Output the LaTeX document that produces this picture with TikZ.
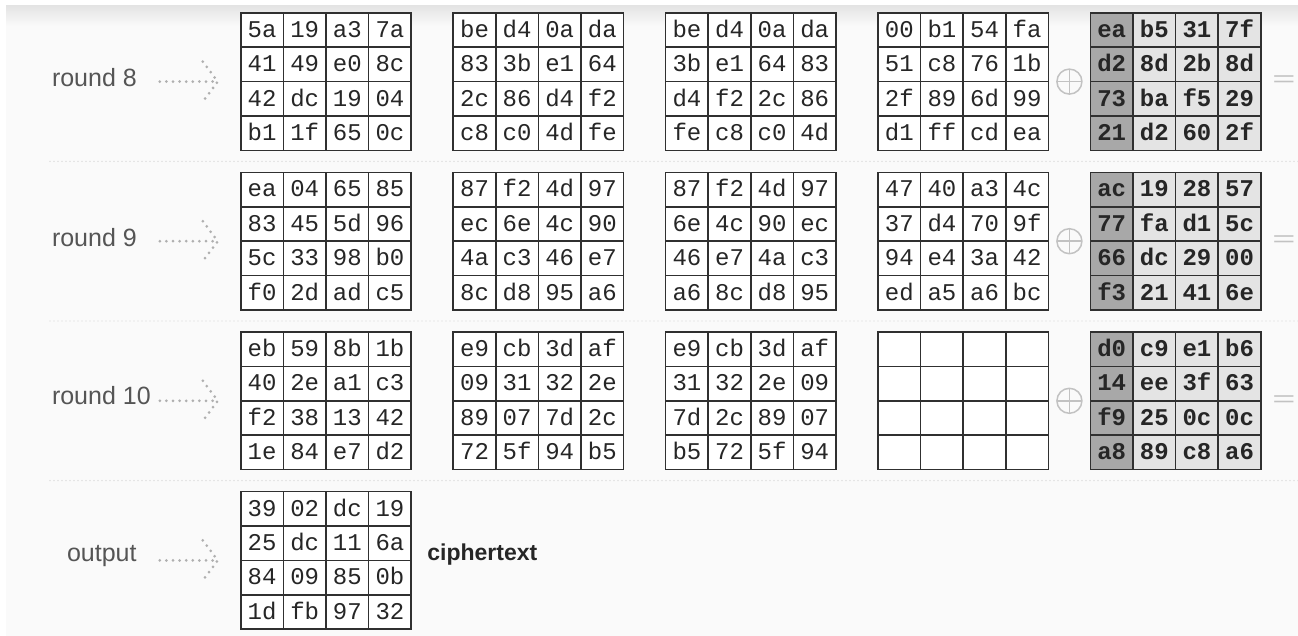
\documentclass[tikz,border=0pt]{standalone}
\usepackage{fontspec}
\setmainfont{Liberation Sans}
\setmonofont{Liberation Mono}
\usetikzlibrary{
  positioning,
  matrix,
  calc
}
\definecolor{aesInk}{HTML}{262626}
\definecolor{aesLine}{HTML}{303030}
\definecolor{aesLabel}{HTML}{555555}
\definecolor{aesKeyDark}{HTML}{A8A8A8}
\definecolor{aesKeyLight}{HTML}{E4E4E4}
\definecolor{aesDot}{HTML}{AFAFAF}
\definecolor{aesSep}{HTML}{D6D6D6}
\definecolor{aesSym}{HTML}{C2C2C2}
\definecolor{aesBg}{HTML}{FAFAFA}
\definecolor{aesShadow}{HTML}{E4E4E4}
\tikzset{
  cell/.style={
    draw=aesLine, line width=1.6pt, minimum width=42.6pt, minimum height=34.4pt,
    inner sep=0pt, text height=14.5pt, text depth=0pt,
    font=\fontsize{24}{24}\selectfont\ttfamily, text=aesInk
  },
  state/.style={
    matrix of nodes, nodes in empty cells, inner sep=0pt,
    column sep=-1.6pt, row sep=-1.6pt, nodes={cell, fill=white}
  },
  roundkey/.style={
    state, nodes={cell, fill=aesKeyLight, font=\fontsize{24}{24}\selectfont\ttfamily\bfseries},
    column 1/.style={nodes={fill=aesKeyDark}}
  },
  lbl/.style={font=\fontsize{25}{25}\selectfont, text=aesLabel, inner sep=0pt},
  cipher/.style={font=\fontsize{23}{23}\selectfont\bfseries, text=aesInk, inner sep=0pt},
  dotline/.style={draw=aesDot, line width=3pt, line cap=round, dash pattern=on 0pt off 6.6pt},
  sepline/.style={draw=aesSep, line width=1.4pt, line cap=round, dash pattern=on 0pt off 4pt},
  xorsym/.style={
    circle, draw=aesSym, line width=1.5pt, minimum size=25pt, inner sep=0pt,
    path picture={
      \draw[aesSym, line width=1.5pt]
        (path picture bounding box.north) -- (path picture bounding box.south)
        (path picture bounding box.west) -- (path picture bounding box.east);
    }
  },
  eqsym/.style={font=\fontsize{22}{22}\selectfont, text=aesSym, inner sep=0pt, xscale=1.8}
}

\begin{document}
\begin{tikzpicture}[x=1pt, y=1pt, node distance=20pt and 40pt]
  \useasboundingbox (0,0) rectangle (1298,-636);
  % backdrop
  \fill[white] (0,0) rectangle (1298,-636);
  \fill[aesBg] (6,-6) rectangle (1298,-636);
  \shade[top color=aesShadow, bottom color=aesBg] (6,-6) rectangle (1298,-26);

  % round 8
  \matrix[state] (m8a) at (326,-81.6) {
    5a & 19 & a3 & 7a \\ 41 & 49 & e0 & 8c \\ 42 & dc & 19 & 04 \\ b1 & 1f & 65 & 0c \\
  };
  \matrix[state, right=of m8a] (m8b) {
    be & d4 & 0a & da \\ 83 & 3b & e1 & 64 \\ 2c & 86 & d4 & f2 \\ c8 & c0 & 4d & fe \\
  };
  \matrix[state, right=of m8b] (m8c) {
    be & d4 & 0a & da \\ 3b & e1 & 64 & 83 \\ d4 & f2 & 2c & 86 \\ fe & c8 & c0 & 4d \\
  };
  \matrix[state, right=of m8c] (m8d) {
    00 & b1 & 54 & fa \\ 51 & c8 & 76 & 1b \\ 2f & 89 & 6d & 99 \\ d1 & ff & cd & ea \\
  };
  \matrix[roundkey, right=of m8d] (k8) {
    ea & b5 & 31 & 7f \\ d2 & 8d & 2b & 8d \\ 73 & ba & f5 & 29 \\ 21 & d2 & 60 & 2f \\
  };

  % round 9
  \matrix[state, below=of m8a] (m9a) {
    ea & 04 & 65 & 85 \\ 83 & 45 & 5d & 96 \\ 5c & 33 & 98 & b0 \\ f0 & 2d & ad & c5 \\
  };
  \matrix[state, right=of m9a] (m9b) {
    87 & f2 & 4d & 97 \\ ec & 6e & 4c & 90 \\ 4a & c3 & 46 & e7 \\ 8c & d8 & 95 & a6 \\
  };
  \matrix[state, right=of m9b] (m9c) {
    87 & f2 & 4d & 97 \\ 6e & 4c & 90 & ec \\ 46 & e7 & 4a & c3 \\ a6 & 8c & d8 & 95 \\
  };
  \matrix[state, right=of m9c] (m9d) {
    47 & 40 & a3 & 4c \\ 37 & d4 & 70 & 9f \\ 94 & e4 & 3a & 42 \\ ed & a5 & a6 & bc \\
  };
  \matrix[roundkey, right=of m9d] (k9) {
    ac & 19 & 28 & 57 \\ 77 & fa & d1 & 5c \\ 66 & dc & 29 & 00 \\ f3 & 21 & 41 & 6e \\
  };

  % round 10
  \matrix[state, below=of m9a] (m10a) {
    eb & 59 & 8b & 1b \\ 40 & 2e & a1 & c3 \\ f2 & 38 & 13 & 42 \\ 1e & 84 & e7 & d2 \\
  };
  \matrix[state, right=of m10a] (m10b) {
    e9 & cb & 3d & af \\ 09 & 31 & 32 & 2e \\ 89 & 07 & 7d & 2c \\ 72 & 5f & 94 & b5 \\
  };
  \matrix[state, right=of m10b] (m10c) {
    e9 & cb & 3d & af \\ 31 & 32 & 2e & 09 \\ 7d & 2c & 89 & 07 \\ b5 & 72 & 5f & 94 \\
  };
  \matrix[state, right=of m10c] (m10d) {
    & & & \\ & & & \\ & & & \\ & & & \\
  };
  \matrix[roundkey, right=of m10d] (k10) {
    d0 & c9 & e1 & b6 \\ 14 & ee & 3f & 63 \\ f9 & 25 & 0c & 0c \\ a8 & 89 & c8 & a6 \\
  };

  % output
  \matrix[state, below=of m10a] (out) {
    39 & 02 & dc & 19 \\ 25 & dc & 11 & 6a \\ 84 & 09 & 85 & 0b \\ 1d & fb & 97 & 32 \\
  };
  \node[cipher, right=15pt of out, anchor=base west] (ct) {ciphertext};

  % xor and equals signs
  \node[xorsym, right=20pt of m8d.east, anchor=center] (x8) {};
  \node[xorsym, right=20pt of m9d.east, anchor=center] (x9) {};
  \node[xorsym, right=20pt of m10d.east, anchor=center] (x10) {};
  \node[eqsym, right=22pt of k8.east, anchor=center] (e8) {=};
  \node[eqsym, right=22pt of k9.east, anchor=center] (e9) {=};
  \node[eqsym, right=22pt of k10.east, anchor=center] (e10) {=};

  % dotted arrows into each row
  \coordinate[left=22pt of m8a] (t8);
  \coordinate[left=58pt of t8] (s8);
  \coordinate[left=22pt of m9a] (t9);
  \coordinate[left=58pt of t9] (s9);
  \coordinate[left=22pt of m10a] (t10);
  \coordinate[left=58pt of t10] (s10);
  \coordinate[left=22pt of out] (to);
  \coordinate[left=58pt of to] (so);
  \draw[dotline] (s8) -- (t8) ++(-15pt,20pt) -- (t8) -- ++(-15pt,-20pt);
  \draw[dotline] (s9) -- (t9) ++(-15pt,20pt) -- (t9) -- ++(-15pt,-20pt);
  \draw[dotline] (s10) -- (t10) ++(-15pt,20pt) -- (t10) -- ++(-15pt,-20pt);
  \draw[dotline] (so) -- (to) ++(-15pt,20pt) -- (to) -- ++(-15pt,-20pt);

  % row labels
  \coordinate[left=108pt of s8] (w8);
  \coordinate[left=108pt of s9] (w9);
  \coordinate[left=108pt of s10] (w10);
  \coordinate[left=23pt of so] (wo);
  \node[lbl, anchor=base west, yshift=-5pt] at (w8) (l8) {round 8};
  \node[lbl, anchor=base west, yshift=-5pt] at (w9) (l9) {round 9};
  \node[lbl, anchor=base west, yshift=-4pt] at (w10) (l10) {round 10};
  \node[lbl, anchor=base east, yshift=-1pt] at (wo) (lo) {output};

  % dotted separators between rows
  \coordinate (sepL) at (50,0);
  \coordinate (sepR) at (1298,0);
  \coordinate (g89) at ($(m8a.south)!.5!(m9a.north)$);
  \coordinate (g910) at ($(m9a.south)!.5!(m10a.north)$);
  \coordinate (g10o) at ($(m10a.south)!.5!(out.north)$);
  \draw[sepline] (g89 -| sepL) -- (g89 -| sepR);
  \draw[sepline] (g910 -| sepL) -- (g910 -| sepR);
  \draw[sepline] (g10o -| sepL) -- (g10o -| sepR);
\end{tikzpicture}
\end{document}
